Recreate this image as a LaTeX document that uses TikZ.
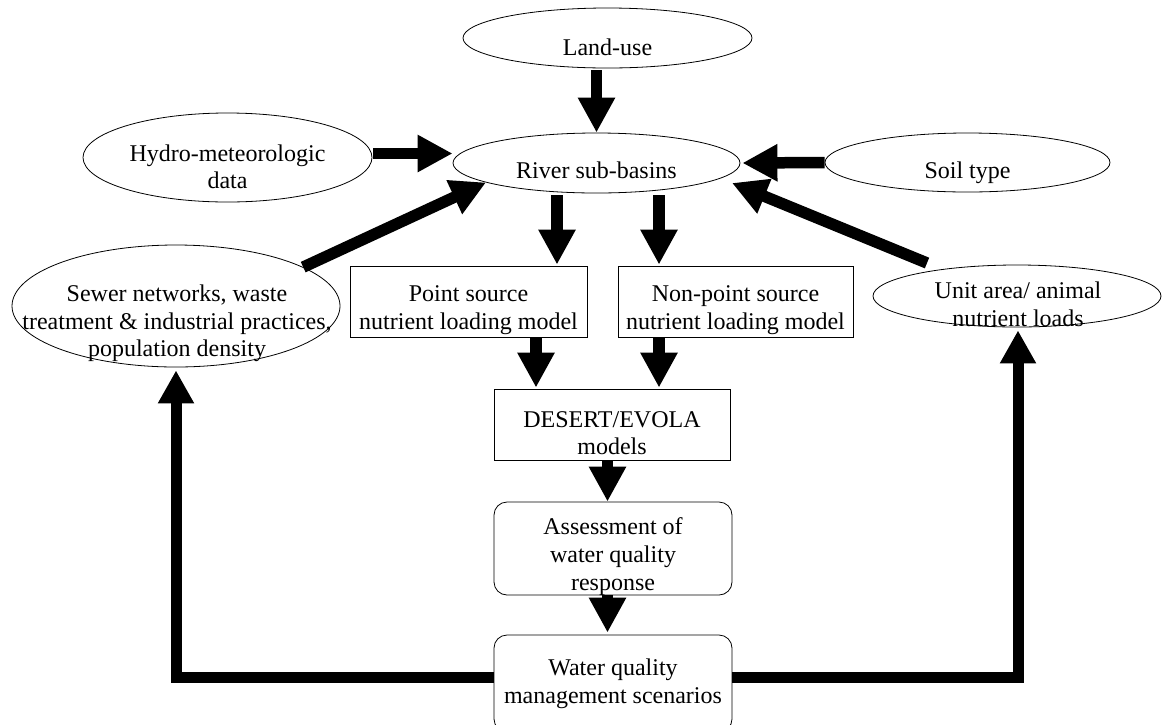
\documentclass[tikz,border=0pt]{standalone}
\usepackage{fontspec}
\setmainfont{Liberation Serif}
\usetikzlibrary{arrows.meta,shapes.geometric,calc}
\begin{document}
\begin{tikzpicture}[x=1pt,y=-1pt,
  ell/.style={draw,ellipse,line width=0.8pt,inner sep=0pt},
  sq/.style={draw,rectangle,line width=0.8pt,inner sep=0pt},
  rnd/.style={sq,rounded corners=13pt},
  ln/.style={anchor=base,inner sep=0pt,font=\fontsize{24pt}{28pt}\selectfont},
  bigarrow/.style={line width=11.5pt,-{Triangle[length=35pt,width=35pt]}},
  fbarrow/.style={line width=11pt,line join=miter,-{Triangle[length=33pt,width=34pt]}}]
\useasboundingbox (0,0) rectangle (1162,724);
\fill[white] (0,0) rectangle (1162,724);

% shapes
\node[ell,minimum width=289pt,minimum height=60pt] (land) at (607.5,38) {};
\node[ell,minimum width=287pt,minimum height=60pt] (river) at (596.5,163) {};
\node[ell,minimum width=289pt,minimum height=89pt] (hydro) at (227.5,157.5) {};
\node[ell,minimum width=285pt,minimum height=59pt] (soil) at (967.5,162.5) {};
\node[ell,minimum width=328pt,minimum height=122pt] (sewer) at (176,306) {};
\node[ell,minimum width=288pt,minimum height=62pt] (unit) at (1017,296) {};
\node[sq,minimum width=237pt,minimum height=71pt] (point) at (468.5,301.5) {};
\node[sq,minimum width=235pt,minimum height=71pt] (nonpoint) at (735.5,301.5) {};
\node[sq,minimum width=236pt,minimum height=71pt] (desert) at (612,424.5) {};
\node[rnd,minimum width=238pt,minimum height=93pt] (assess) at (613,548.5) {};
\node[rnd,minimum width=238pt,minimum height=97pt] (mgmt) at (613,683.5) {};

% texts
\node[ln] (landt) at (607.5,55) {Land-use};
\node[ln] (rivert) at (596.5,178) {River sub-basins};
\node[ln] (soilt) at (967.5,178) {Soil type};
\node[ln] (hydrot1) at (227.5,161) {Hydro-meteorologic};
\node[ln] (hydrot2) at (227.5,188) {data};
\node[ln] (sewert1) at (177,301) {Sewer networks, waste};
\node[ln] (sewert2) at (177,329) {treatment \& industrial practices,};
\node[ln] (sewert3) at (177,356) {population density};
\node[ln] (unitt1) at (1018,298) {Unit area/ animal};
\node[ln] (unitt2) at (1018,326) {nutrient loads};
\node[ln] (pointt1) at (468.5,301) {Point source};
\node[ln] (pointt2) at (468.5,329) {nutrient loading model};
\node[ln] (nonpointt1) at (735.5,301) {Non-point source};
\node[ln] (nonpointt2) at (735.5,329) {nutrient loading model};
\node[ln] (desertt1) at (612,427) {DESERT/EVOLA};
\node[ln] (desertt2) at (612,454) {models};
\node[ln] (assesst1) at (613,534) {Assessment of};
\node[ln] (assesst2) at (613,562) {water quality};
\node[ln] (assesst3) at (613,590) {response};
\node[ln] (mgmtt1) at (613,675) {Water quality};
\node[ln] (mgmtt2) at (613,703) {management scenarios};

% connectors
\draw[bigarrow] ($(river.north |- land.south)+(0,2)$) -- (river.north);
\draw[bigarrow] ($(hydro.east)+(1,-4)$) -- ($(hydro.east -| river.west)+(0,-4)$);
\draw[bigarrow] (soil.west) -- ($(river.east)+(2,0)$);
\draw[bigarrow] (sewer.17.7) -- (river.190);
\draw[bigarrow] ($(unit.center)+(-90,-33)$) -- ($(river.center)+(135.5,20)$);

\coordinate (rp) at ($(river.south)+(-39.5,2)$);
\coordinate (rn) at ($(river.south)+(62.5,2)$);
\draw[bigarrow] (rp) -- ($(rp |- point.north)+(0,-1)$);
\draw[bigarrow] (rn) -- ($(rn |- nonpoint.north)+(0,-1)$);

\coordinate (pd) at ($(point.south)+(67.5,0)$);
\coordinate (nd) at ($(nonpoint.south)+(-76.5,0)$);
\draw[bigarrow] (pd) -- ($(pd |- desert.north)+(0,-1)$);
\draw[bigarrow] (nd) -- ($(nd |- desert.north)+(0,-1)$);

\coordinate (da) at ($(desert.south)+(-4.5,0)$);
\draw[bigarrow] (da) -- (da |- assess.north);
\coordinate (am) at ($(assess.south)+(-5.5,0)$);
\draw[bigarrow] (am) -- ($(am |- mgmt.north)+(0,-2)$);

\coordinate (fl) at ($(mgmt.west)+(0,-6.5)$);
\coordinate (fr) at ($(mgmt.east)+(0,-6.5)$);
\draw[fbarrow] (fl) -| ($(sewer.south)+(0,3)$);
\draw[fbarrow] (fr) -| ($(unit.south)+(1,3)$);
\end{tikzpicture}
\end{document}
